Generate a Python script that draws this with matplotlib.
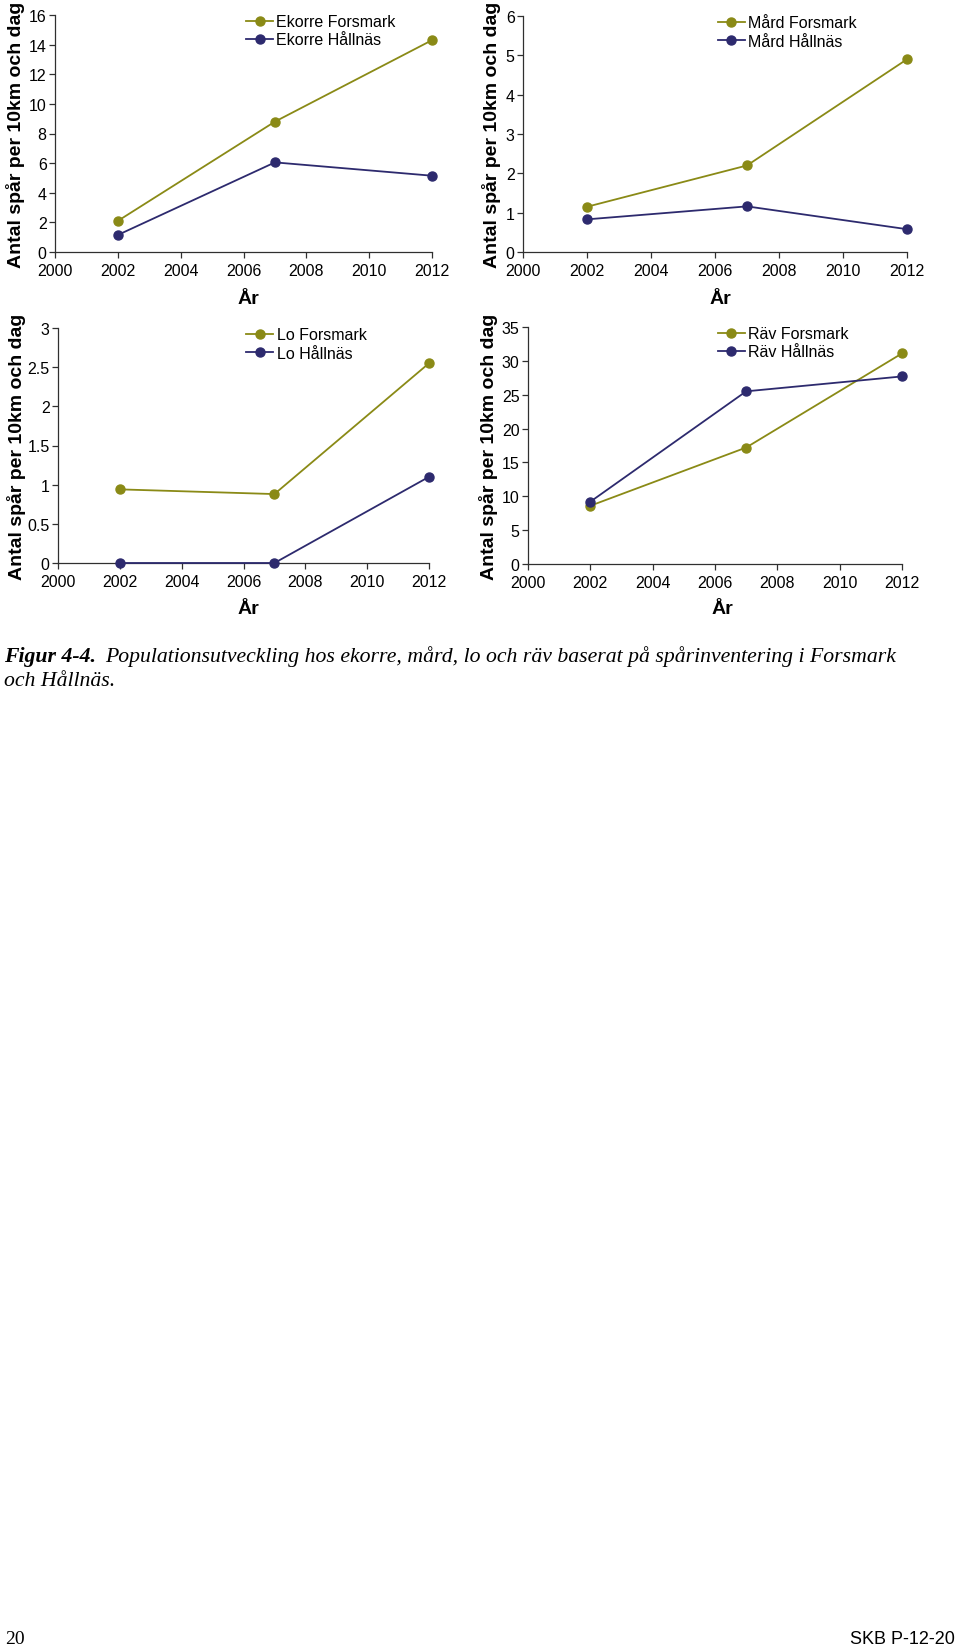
import matplotlib
matplotlib.use("Agg")
import matplotlib.pyplot as plt
from matplotlib.ticker import FuncFormatter, MultipleLocator

# data
years = [2002, 2007, 2012]

ekorre_forsmark = [2.1, 8.8, 14.3]
ekorre_hallnas = [1.15, 6.05, 5.15]

mard_forsmark = [1.15, 2.2, 4.9]
mard_hallnas = [0.83, 1.16, 0.58]

lo_forsmark = [0.94, 0.88, 2.55]
lo_hallnas = [0.0, 0.0, 1.1]

rav_forsmark = [8.6, 17.2, 31.1]
rav_hallnas = [9.2, 25.5, 27.7]

x_ticks = [2000, 2002, 2004, 2006, 2008, 2010, 2012]

OLIVE = '#8a8a16'
NAVY = '#2d2a6e'
AXC = '#303030'
W, H = 960, 1649

plt.rcParams['font.family'] = ['Liberation Sans', 'DejaVu Sans']

fig = plt.figure(figsize=(W / 100, H / 100), dpi=100)


def px(l, t, r, b):
    return [l / W, 1 - b / H, (r - l) / W, (b - t) / H]


def rita_panel(rect, forsmark, hallnas, namn, ymax, ystep, ylab_x, xlab_pos):
    ax = fig.add_axes(px(*rect))
    ax.plot(years, forsmark, color=OLIVE, lw=1.3, marker='o', ms=6.5,
            label=f'{namn} Forsmark', clip_on=False, zorder=3)
    ax.plot(years, hallnas, color=NAVY, lw=1.3, marker='o', ms=6.5,
            label=f'{namn} Hållnäs', clip_on=False, zorder=3)
    ax.set_xlim(2000, 2012)
    ax.set_ylim(0, ymax)
    ax.set_xticks(x_ticks)
    ax.yaxis.set_major_locator(MultipleLocator(ystep))
    ax.yaxis.set_major_formatter(FuncFormatter(lambda v, p: f'{v:g}'))
    for s in ['top', 'right']:
        ax.spines[s].set_visible(False)
    for s in ['left', 'bottom']:
        ax.spines[s].set_color(AXC)
        ax.spines[s].set_linewidth(0.9)
    ax.tick_params(axis='both', labelsize=11.5, length=4, width=0.9,
                   color=AXC, direction='out')
    ax.tick_params(axis='x', pad=4)
    ax.tick_params(axis='y', pad=2)
    ax.legend(loc='upper left', bbox_to_anchor=(0.49, 1.03), frameon=False,
              fontsize=11.5, handlelength=1.7, handletextpad=0.2,
              labelspacing=0.2, borderaxespad=0)
    # axeltitlar
    cy = 1 - ((rect[1] + rect[3]) / 2) / H
    fig.text(ylab_x / W, cy, 'Antal spår per 10km och dag', rotation=90,
             ha='center', va='center', fontsize=14, fontweight='bold')
    fig.text(xlab_pos[0] / W, 1 - xlab_pos[1] / H, 'År', ha='center',
             va='center', fontsize=14, fontweight='bold')
    return ax


rita_panel((55, 16, 432, 253), ekorre_forsmark, ekorre_hallnas, 'Ekorre',
           16, 2, 16, (248, 300))
rita_panel((523, 17, 907, 253), mard_forsmark, mard_hallnas, 'Mård',
           6, 1, 492, (720, 300))
rita_panel((58, 329, 429, 564), lo_forsmark, lo_hallnas, 'Lo',
           3, 0.5, 17, (248, 609))
rita_panel((528, 328, 902, 565), rav_forsmark, rav_hallnas, 'Räv',
           35, 5, 488, (722, 609))

# figurtext
serif = ['Liberation Serif', 'DejaVu Serif']
fig.text(4 / W, 1 - 657 / H, 'Figur 4-4.', family=serif, style='italic',
         fontweight='bold', fontsize=15.7, ha='left', va='center')
fig.text(105 / W, 1 - 657 / H,
         'Populationsutveckling hos ekorre, mård, lo och räv baserat på '
         'spårinventering i Forsmark', family=serif, style='italic',
         fontsize=15.7, ha='left', va='center')
fig.text(4 / W, 1 - 682 / H, 'och Hållnäs.', family=serif, style='italic',
         fontsize=15.7, ha='left', va='center')

# sidfot
fig.text(5 / W, 1 - 1640 / H, '20', family=serif, fontsize=14,
         ha='left', va='center')
fig.text(955 / W, 1 - 1640 / H, 'SKB P-12-20', fontsize=13,
         ha='right', va='center')

fig.savefig('out.png', dpi=100)
